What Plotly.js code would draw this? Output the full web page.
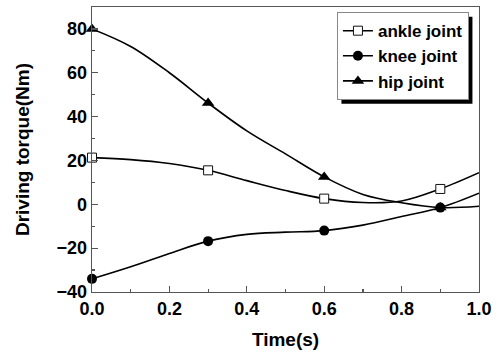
<!DOCTYPE html>
<html>
<head>
<meta charset="utf-8">
<script src="https://cdn.plot.ly/plotly-3.0.1.min.js"></script>
<style>html,body{margin:0;padding:0;background:#fff;}#chart{width:502px;height:356px;}</style>
</head>
<body>
<div id="chart"></div>
<script>
// Data
const time = [0, 0.1, 0.2, 0.3, 0.4, 0.5, 0.6, 0.7, 0.8, 0.9, 1.0];
const ankle = [21.3, 20.4, 18.6, 15.5, 10.8, 6.3, 2.6, 0.8, 1.5, 7.0, 14.4];
const knee = [-34, -28.5, -22.4, -16.8, -13.7, -12.7, -12.0, -9.5, -5.6, -1.5, 5.1];
const hip = [80, 72, 60, 46.2, 33.5, 23, 12.5, 4.5, 0.7, -1.5, -0.9];
const markerIdx = [0, 3, 6, 9];
const seriesNames = ['ankle joint', 'knee joint', 'hip joint'];
const xTickVals = [0, 0.2, 0.4, 0.6, 0.8, 1.0];
const yTickVals = [-40, -20, 0, 20, 40, 60, 80];

const FONT = 'Liberation Sans, Arial, sans-serif';
const styles = [
  {symbol: 'square', size: 9, color: '#ffffff', line: {color: '#111', width: 1}},
  {symbol: 'circle', size: 10, color: '#000000', line: {color: '#000', width: 0}},
  {symbol: 'triangle-up', size: 11, color: '#000000', line: {color: '#000', width: 0}}
];
const series = [ankle, knee, hip];
const traces = [];
series.forEach((s, i) => {
  // smooth curve
  traces.push({x: time, y: s, mode: 'lines', line: {color: '#000', width: 1.6, shape: 'spline', smoothing: 1},
    showlegend: false, hoverinfo: 'skip'});
  // markers
  traces.push({x: markerIdx.map(k => time[k]), y: markerIdx.map(k => s[k]), mode: 'markers',
    marker: styles[i], showlegend: false, cliponaxis: false});
});
// legend entries
series.forEach((s, i) => {
  traces.push({x: [null], y: [null], mode: 'lines+markers', name: seriesNames[i],
    line: {color: '#000', width: 1.6}, marker: styles[i]});
});

const axisCommon = {
  showline: true, mirror: true, linecolor: '#555', linewidth: 1.3,
  ticks: 'inside', ticklen: 6, tickwidth: 1.2, tickcolor: '#555',
  showgrid: false, zeroline: false,
  tickfont: {family: FONT, size: 18, color: '#000', weight: 'bold'}
};

const layout = {
  width: 502, height: 356,
  margin: {l: 92, r: 23, t: 7, b: 64},
  paper_bgcolor: '#fff', plot_bgcolor: '#fff',
  xaxis: Object.assign({}, axisCommon, {
    range: [0, 1], tickvals: xTickVals, tickformat: '.1f',
    minor: {ticks: 'inside', ticklen: 3, dtick: 0.1, tickcolor: '#555', tickwidth: 1.2},
    title: {text: 'Time(s)', font: {family: FONT, size: 19, color: '#000', weight: 'bold'}, standoff: 14}
  }),
  yaxis: Object.assign({}, axisCommon, {
    range: [-40, 90], tickvals: yTickVals,
    minor: {ticks: 'inside', ticklen: 3, tick0: -40, dtick: 10, tickcolor: '#555', tickwidth: 1.2},
    title: {text: 'Driving torque(Nm)', font: {family: FONT, size: 19, color: '#000', weight: 'bold'}, standoff: 22}
  }),
  legend: {
    x: 0.974, xanchor: 'right', y: 0.982, yanchor: 'top',
    bgcolor: '#fff', bordercolor: '#888', borderwidth: 1,
    font: {family: FONT, size: 17, color: '#000', weight: 'bold'},
    tracegroupgap: 0, itemwidth: 30
  }
};

Plotly.newPlot('chart', traces, layout, {displayModeBar: false, staticPlot: true}).then(gd => {
  const bg = gd.querySelector('.legend .bg');
  if (!bg) return;
  const bb = bg.getBoundingClientRect();
  const cb = gd.getBoundingClientRect();
  const fl = gd._fullLayout;
  const pw = fl._size.w, ph = fl._size.h, pl = fl._size.l, pt = fl._size.t;
  const off = 4;
  const x0 = (bb.left - cb.left + off - pl) / pw;
  const x1 = (bb.right - cb.left + off - pl) / pw;
  const y0 = 1 - (bb.top - cb.top + off - pt) / ph;
  const y1 = 1 - (bb.bottom - cb.top + off - pt) / ph;
  Plotly.relayout(gd, {shapes: [{type: 'rect', xref: 'paper', yref: 'paper', x0: x0, x1: x1, y0: y0, y1: y1,
    fillcolor: '#000', line: {width: 0}, layer: 'above'}]});
});
</script>
</body>
</html>
